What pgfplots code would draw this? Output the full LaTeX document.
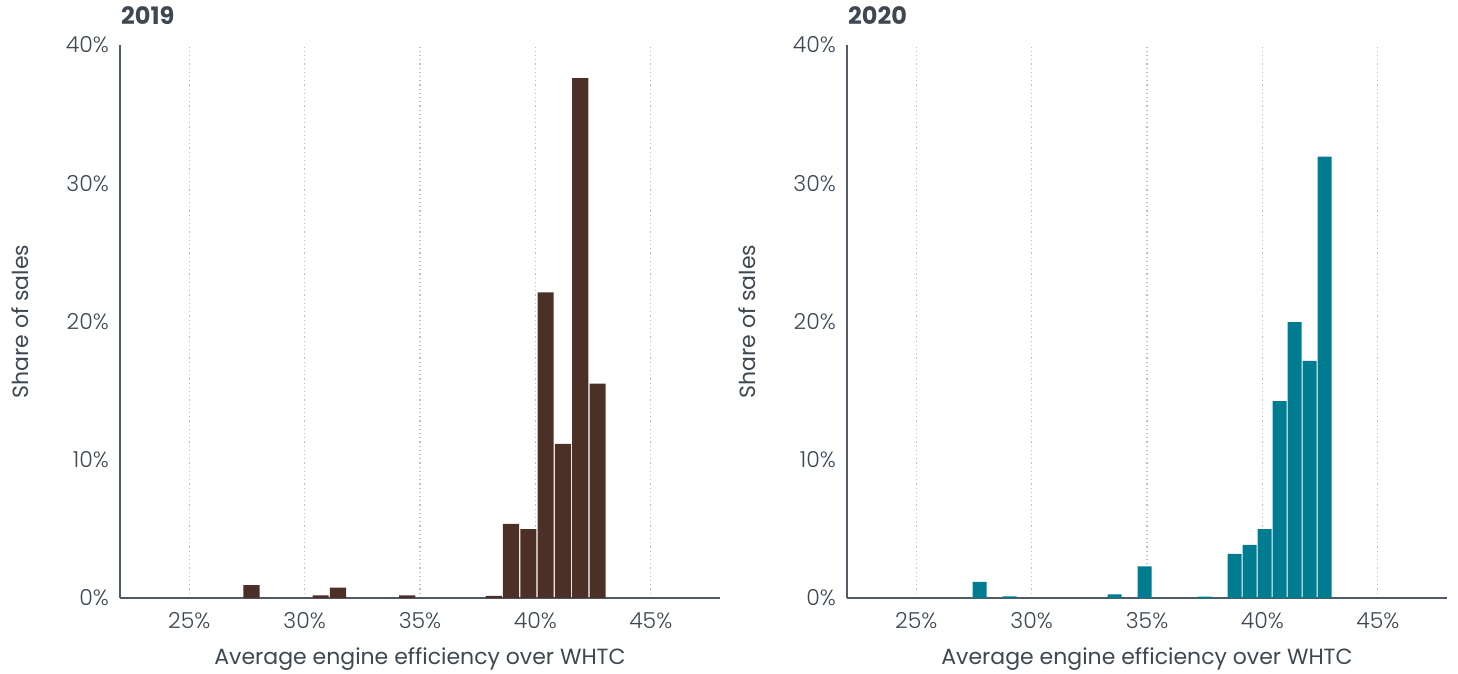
\documentclass[border=0pt]{standalone}
\usepackage{fontspec}
\setmainfont{Poppins}
\newfontfamily\lightfont{Poppins}[UprightFont={* Light}]
\usepackage{pgfplots}
\pgfplotsset{compat=1.18}
\definecolor{txt}{HTML}{3D4852}
\definecolor{axl}{HTML}{4F5B66}
\definecolor{brn}{HTML}{4C3027}
\definecolor{tealc}{HTML}{007C91}
\definecolor{grd}{HTML}{BDBDBD}

\pgfplotstableread{
x y
27.695 0.94
30.695 0.19
31.445 0.75
34.445 0.19
38.195 0.15
38.945 5.37
39.695 4.98
40.445 22.1
41.195 11.15
41.945 37.6
42.695 15.5
}\dataA

\pgfplotstableread{
x y
27.745 1.16
29.045 0.12
33.595 0.26
34.895 2.29
37.495 0.10
38.795 3.2
39.445 3.85
40.095 4.99
40.745 14.24
41.395 19.95
42.045 17.16
42.695 31.93
}\dataB

\pgfplotsset{myax/.style={
  set layers,
  scale only axis, width=600pt, height=553pt,
  xmin=22, xmax=48, ymin=0, ymax=40,
  axis x line*=bottom, axis y line*=left,
  axis line style={-, axl, line width=1.4pt, /pgfplots/on layer=axis foreground},
  xtick={25,30,35,40,45}, ytick={0,10,20,30,40},
  xticklabel={\pgfmathprintnumber{\tick}\%},
  yticklabel={\pgfmathprintnumber{\tick}\%},
  /pgf/number format/assume math mode=true,
  major tick length=0pt,
  xmajorgrids,
  grid style={grd, line width=1.2pt, dash pattern=on 1.2pt off 3pt},
  tick label style={font=\fontsize{22}{22}\lightfont, text=txt, inner sep=0pt},
  xticklabel style={anchor=center, yshift=-23pt},
  yticklabel style={anchor=east, xshift=-11pt},
  xlabel={Average engine efficiency over WHTC},
  ylabel={Share of sales},
  label style={font=\fontsize{22}{22}\selectfont, text=txt, inner sep=0pt},
  xlabel style={at={(axis description cs:0.5,0)}, anchor=center, yshift=-61pt},
  ylabel style={at={(axis description cs:0,0.5)}, anchor=center, yshift=100pt},
  title style={at={(axis description cs:0,1)}, anchor=west, yshift=23pt, xshift=1pt, inner sep=0pt,
     font=\fontsize{24}{24}\selectfont\bfseries, text=txt},
  anchor=south west,
}}

\begin{document}
\begin{tikzpicture}
\begin{axis}[myax, at={(120pt,75pt)}, title={2019}]
\addplot[ybar, bar width=0.70, fill=brn, draw=none] table[x=x,y=y] {\dataA};
\end{axis}
\begin{axis}[myax, at={(847pt,75pt)}, title={2020}]
\addplot[ybar, bar width=0.60, fill=tealc, draw=none] table[x=x,y=y] {\dataB};
\end{axis}
\pgfresetboundingbox
\useasboundingbox (0,0) rectangle (1458pt,673pt);
\end{tikzpicture}
\end{document}
